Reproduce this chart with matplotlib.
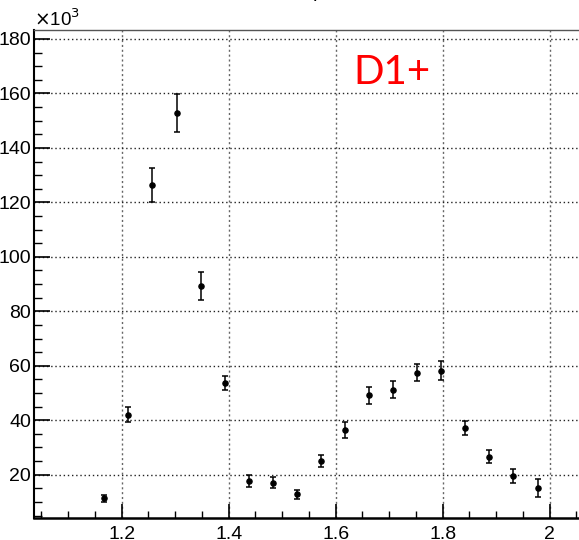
import matplotlib
matplotlib.use("Agg")
import matplotlib.pyplot as plt
from matplotlib.ticker import MultipleLocator
from matplotlib import font_manager

# Data (y values in units of 10^3)
x_vals = [1.1675, 1.2125, 1.2575, 1.3025, 1.3475, 1.3925, 1.4375, 1.4825, 1.5275,
          1.5725, 1.6175, 1.6625, 1.7075, 1.7525, 1.7975, 1.8425, 1.8875, 1.9325, 1.9775]
y_vals = [11.4, 42.0, 126.5, 152.7, 89.3, 53.6, 17.6, 17.1, 12.8,
          25.0, 36.4, 49.2, 51.2, 57.5, 58.2, 37.2, 26.6, 19.5, 15.1]
y_errs = [1.3, 2.8, 6.2, 7.0, 5.2, 2.5, 2.2, 2.0, 1.6,
          2.1, 3.0, 3.1, 3.1, 3.0, 3.6, 2.6, 2.4, 2.5, 3.3]
x_ticks = [1.2, 1.4, 1.6, 1.8, 2.0]
x_tick_labels = ["1.2", "1.4", "1.6", "1.8", "2"]
y_ticks = [20, 40, 60, 80, 100, 120, 140, 160, 180]
y_tick_labels = ["20", "40", "60", "80", "100", "120", "140", "160", "180"]
label_text = "D1+"

names = {f.name for f in font_manager.fontManager.ttflist}
tick_fam = ["Liberation Sans Narrow", "Liberation Sans", "DejaVu Sans"]
tick_fam = [f for f in tick_fam if f in names] or ["DejaVu Sans"]

W, H = 579, 540
fig = plt.figure(figsize=(W / 100, H / 100), dpi=100)
left, right, top, bottom = 34, 579, 30, 517.7
ax = fig.add_axes([left / W, 1 - bottom / H, (right - left) / W, (bottom - top) / H])

ax.errorbar(x_vals, y_vals, yerr=y_errs, fmt='o', color='black', markersize=3.7,
            elinewidth=1.1, capsize=2.2, capthick=1.1, zorder=3)

ax.set_xlim(1.036, 2.055)
ax.set_ylim(4.2, 183.3)

ax.set_xticks(x_ticks)
ax.set_xticklabels(x_tick_labels, family=tick_fam, fontsize=14)
ax.set_yticks(y_ticks)
ax.set_yticklabels(y_tick_labels, family=tick_fam, fontsize=14)
ax.xaxis.set_minor_locator(MultipleLocator(0.05))
ax.yaxis.set_minor_locator(MultipleLocator(5))
ax.tick_params(axis='both', which='both', direction='in', color='black')
ax.tick_params(axis='x', which='major', length=10, width=1.2, pad=6)
ax.tick_params(axis='x', which='minor', length=5, width=1.0)
ax.tick_params(axis='y', which='major', length=11.5, width=1.2, pad=2)
ax.tick_params(axis='y', which='minor', length=6, width=1.0)

ax.grid(True, axis='y', which='major', color='#222222', linestyle=(0, (1, 2)), linewidth=1.0)
ax.grid(True, axis='x', which='major', color='#666666', linestyle=(0, (1.5, 2)), linewidth=1.0)

ax.spines['left'].set_linewidth(1.5)
ax.spines['bottom'].set_linewidth(1.8)
ax.spines['top'].set_linewidth(1.0)
ax.spines['top'].set_color('#555555')
ax.spines['right'].set_visible(False)

fig.text(34 / W, 1 - 26 / H, r"$\times$10$^{3}$", family=tick_fam, fontsize=13.5,
         ha='left', va='baseline')
fig.text(353 / W, 1 - 84 / H, label_text, color='#ff0000',
         family=["Lato", "Open Sans", "DejaVu Sans"], fontsize=29, ha='left', va='baseline')
fig.text(318 / W, 1 + 3 / H, "p", family=tick_fam, fontsize=14, ha='center', va='baseline')

fig.savefig("out.png", dpi=100)
